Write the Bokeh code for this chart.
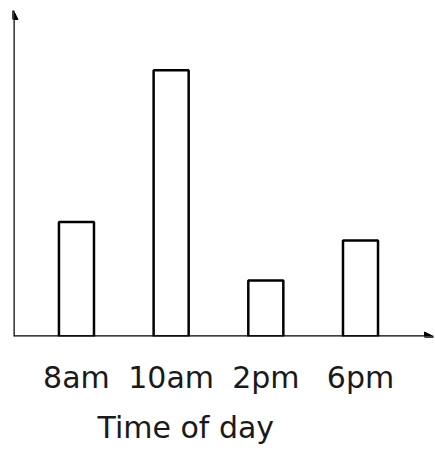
import numpy as np
from bokeh.plotting import figure
from bokeh.models import Range1d, Arrow, NormalHead, FixedTicker, Title
from bokeh.embed import file_html
from bokeh.resources import INLINE

times = ["8am", "10am", "2pm", "6pm"]
values = [4.3, 10.0, 2.1, 3.6]
x_title = "Time of day"

FONT = "DejaVu Sans"
y_top = 12.24
idx = np.arange(len(times))
x0, x1 = -0.665, len(times) - 1 + 0.771

p = figure(width=435, height=455, output_backend="svg", toolbar_location=None,
           x_range=Range1d(x0, x1), y_range=Range1d(0, y_top),
           min_border_left=13, min_border_right=2, min_border_top=10, min_border_bottom=119)

p.vbar(x=idx, top=values, width=0.37, fill_color="white",
       line_color="black", line_width=2.5)

p.add_layout(Arrow(x_start=x0, y_start=0, x_end=x0, y_end=y_top,
                   line_width=2.5, line_color="black",
                   end=NormalHead(size=9, fill_color="black", line_color="black")))
p.add_layout(Arrow(x_start=x0, y_start=0, x_end=x1, y_end=0,
                   line_width=2.5, line_color="black",
                   end=NormalHead(size=9, fill_color="black", line_color="black")))

p.yaxis.visible = False
p.xgrid.visible = False
p.ygrid.visible = False
p.outline_line_color = None

ax = p.xaxis[0]
ax.ticker = FixedTicker(ticks=list(idx))
ax.major_label_overrides = {int(i): t for i, t in zip(idx, times)}
ax.axis_line_color = None
ax.major_tick_line_color = None
ax.minor_tick_line_color = None
ax.major_tick_out = 0
ax.major_label_standoff = 23
ax.major_label_text_font = FONT
ax.major_label_text_font_size = "30px"
ax.major_label_text_color = "#1a1a1a"

p.add_layout(Title(text=x_title, align="left", offset=84,
                   text_font=FONT, text_font_size="30px", text_font_style="normal",
                   text_color="#1a1a1a", standoff=20), "below")

open("out.html", "w").write(file_html(p, INLINE))
